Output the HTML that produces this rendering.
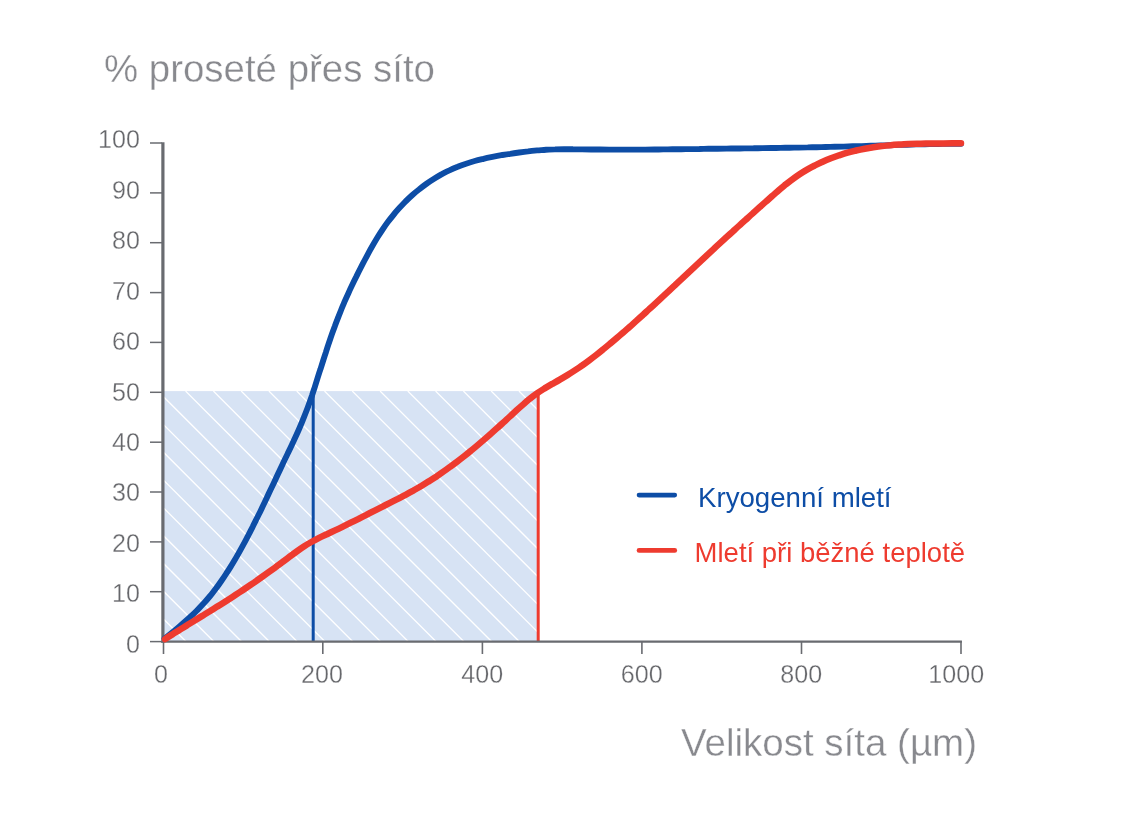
<!DOCTYPE html>
<html><head><meta charset="utf-8"><title>chart</title>
<style>html,body{margin:0;padding:0;background:#fff}svg{display:block;will-change:transform;opacity:0.999}text{font-family:"Liberation Sans",sans-serif}</style></head><body>
<svg width="1142" height="829" viewBox="0 0 1142 829">
<rect width="1142" height="829" fill="#fff"/>
<defs><clipPath id="c"><rect x="163" y="391.1" width="375.2" height="250.3"/></clipPath></defs>
<rect x="163" y="391.1" width="375.2" height="250.3" fill="#d7e3f4"/>
<g clip-path="url(#c)" stroke="#fff" stroke-width="1.35">
<line x1="-147.8" y1="391.1" x2="112.2" y2="651.1"/>
<line x1="-120.0" y1="391.1" x2="140.0" y2="651.1"/>
<line x1="-92.2" y1="391.1" x2="167.8" y2="651.1"/>
<line x1="-64.4" y1="391.1" x2="195.6" y2="651.1"/>
<line x1="-36.6" y1="391.1" x2="223.4" y2="651.1"/>
<line x1="-8.9" y1="391.1" x2="251.1" y2="651.1"/>
<line x1="18.9" y1="391.1" x2="278.9" y2="651.1"/>
<line x1="46.7" y1="391.1" x2="306.7" y2="651.1"/>
<line x1="74.5" y1="391.1" x2="334.5" y2="651.1"/>
<line x1="102.3" y1="391.1" x2="362.3" y2="651.1"/>
<line x1="130.0" y1="391.1" x2="390.0" y2="651.1"/>
<line x1="157.8" y1="391.1" x2="417.8" y2="651.1"/>
<line x1="185.6" y1="391.1" x2="445.6" y2="651.1"/>
<line x1="213.4" y1="391.1" x2="473.4" y2="651.1"/>
<line x1="241.2" y1="391.1" x2="501.2" y2="651.1"/>
<line x1="268.9" y1="391.1" x2="528.9" y2="651.1"/>
<line x1="296.7" y1="391.1" x2="556.7" y2="651.1"/>
<line x1="324.5" y1="391.1" x2="584.5" y2="651.1"/>
<line x1="352.3" y1="391.1" x2="612.3" y2="651.1"/>
<line x1="380.1" y1="391.1" x2="640.1" y2="651.1"/>
<line x1="407.8" y1="391.1" x2="667.8" y2="651.1"/>
<line x1="435.6" y1="391.1" x2="695.6" y2="651.1"/>
<line x1="463.4" y1="391.1" x2="723.4" y2="651.1"/>
<line x1="491.2" y1="391.1" x2="751.2" y2="651.1"/>
<line x1="519.0" y1="391.1" x2="779.0" y2="651.1"/>
<line x1="546.7" y1="391.1" x2="806.7" y2="651.1"/>
</g>
<line x1="313.2" y1="393" x2="313.2" y2="641" stroke="#0d4da6" stroke-width="3"/>
<line x1="538.2" y1="391" x2="538.2" y2="641" stroke="#ee3b2f" stroke-width="3"/>
<g stroke="#696b70" fill="none">
<line x1="162.9" y1="142.3" x2="162.9" y2="642.7" stroke-width="3.2"/>
<line x1="161.3" y1="641.6" x2="961.9" y2="641.6" stroke-width="2.3"/>
<line x1="150" y1="641.6" x2="162" y2="641.6" stroke-width="1.5"/>
<line x1="150" y1="591.7" x2="162" y2="591.7" stroke-width="1.5"/>
<line x1="150" y1="541.9" x2="162" y2="541.9" stroke-width="1.5"/>
<line x1="150" y1="492.0" x2="162" y2="492.0" stroke-width="1.5"/>
<line x1="150" y1="442.2" x2="162" y2="442.2" stroke-width="1.5"/>
<line x1="150" y1="392.3" x2="162" y2="392.3" stroke-width="1.5"/>
<line x1="150" y1="342.4" x2="162" y2="342.4" stroke-width="1.5"/>
<line x1="150" y1="292.6" x2="162" y2="292.6" stroke-width="1.5"/>
<line x1="150" y1="242.7" x2="162" y2="242.7" stroke-width="1.5"/>
<line x1="150" y1="192.9" x2="162" y2="192.9" stroke-width="1.5"/>
<line x1="150" y1="143.0" x2="162" y2="143.0" stroke-width="1.5"/>
<line x1="163.5" y1="641" x2="163.5" y2="654" stroke-width="1.6"/>
<line x1="322.8" y1="641" x2="322.8" y2="654" stroke-width="1.6"/>
<line x1="482.4" y1="641" x2="482.4" y2="654" stroke-width="1.6"/>
<line x1="641.9" y1="641" x2="641.9" y2="654" stroke-width="1.6"/>
<line x1="801.5" y1="641" x2="801.5" y2="654" stroke-width="1.6"/>
<line x1="961.0" y1="641" x2="961.0" y2="654" stroke-width="1.6"/>
</g>
<path d="M164.6 638.6 C165.8 637.7 169.3 634.9 171.6 633.0 C174.0 631.1 176.3 629.2 178.6 627.2 C180.9 625.3 183.2 623.3 185.4 621.3 C187.7 619.3 189.9 617.3 192.1 615.2 C194.3 613.2 196.4 611.0 198.5 608.9 C200.6 606.7 202.7 604.5 204.7 602.3 C206.7 600.1 208.6 597.8 210.5 595.5 C212.4 593.1 214.3 590.8 216.1 588.3 C217.9 585.9 219.6 583.5 221.3 581.0 C223.0 578.6 224.7 576.1 226.3 573.5 C228.0 571.0 229.6 568.5 231.2 565.9 C232.7 563.3 234.3 560.7 235.8 558.1 C237.3 555.5 238.8 552.9 240.2 550.3 C241.7 547.6 243.1 545.0 244.6 542.3 C246.0 539.7 247.4 537.0 248.8 534.4 C250.2 531.7 251.5 529.0 252.9 526.3 C254.2 523.6 255.6 520.9 256.9 518.3 C258.2 515.6 259.6 512.9 260.9 510.2 C262.2 507.4 263.5 504.7 264.8 502.0 C266.1 499.3 267.3 496.6 268.6 493.9 C269.9 491.2 271.2 488.4 272.5 485.7 C273.8 483.0 275.0 480.3 276.3 477.6 C277.6 474.8 278.9 472.1 280.2 469.4 C281.5 466.7 282.8 464.0 284.0 461.2 C285.3 458.5 286.7 455.8 287.9 453.1 C289.2 450.4 290.5 447.7 291.8 444.9 C293.1 442.2 294.4 439.5 295.6 436.8 C296.9 434.0 298.1 431.3 299.3 428.5 C300.5 425.8 301.7 423.0 302.8 420.2 C303.9 417.4 305.0 414.7 306.1 411.8 C307.2 409.0 308.2 406.2 309.2 403.4 C310.2 400.5 311.2 397.7 312.2 394.9 C313.1 392.0 314.1 389.1 315.0 386.3 C315.9 383.4 316.8 380.5 317.7 377.7 C318.6 374.8 319.5 371.9 320.5 369.1 C321.4 366.2 322.3 363.3 323.2 360.5 C324.1 357.6 325.0 354.7 326.0 351.9 C326.9 349.0 327.8 346.2 328.8 343.3 C329.8 340.5 330.7 337.6 331.7 334.8 C332.7 332.0 333.7 329.1 334.8 326.3 C335.8 323.5 336.9 320.7 338.0 317.9 C339.0 315.1 340.2 312.3 341.3 309.5 C342.4 306.7 343.6 304.0 344.8 301.2 C346.0 298.4 347.2 295.7 348.5 292.9 C349.7 290.2 351.0 287.5 352.3 284.8 C353.6 282.0 354.9 279.3 356.3 276.6 C357.6 273.9 358.9 271.2 360.3 268.6 C361.7 265.9 363.1 263.2 364.5 260.5 C365.9 257.9 367.3 255.2 368.7 252.6 C370.1 250.0 371.6 247.4 373.1 244.8 C374.6 242.2 376.1 239.6 377.7 237.0 C379.3 234.5 380.9 232.0 382.6 229.5 C384.3 227.0 386.0 224.5 387.8 222.1 C389.6 219.7 391.5 217.3 393.4 215.0 C395.3 212.6 397.3 210.3 399.3 208.1 C401.3 205.9 403.4 203.7 405.5 201.5 C407.7 199.4 409.9 197.3 412.1 195.3 C414.3 193.3 416.6 191.3 419.0 189.5 C421.3 187.6 423.7 185.8 426.2 184.0 C428.6 182.3 431.1 180.6 433.7 179.0 C436.2 177.4 438.8 175.9 441.4 174.4 C444.1 173.0 446.7 171.6 449.4 170.4 C452.1 169.1 454.9 167.9 457.7 166.8 C460.5 165.6 463.3 164.6 466.1 163.7 C469.0 162.7 471.8 161.8 474.7 161.0 C477.6 160.2 480.6 159.5 483.5 158.8 C486.4 158.1 489.4 157.5 492.4 156.9 C495.3 156.3 498.3 155.7 501.3 155.2 C504.3 154.7 507.2 154.2 510.2 153.8 C513.2 153.3 516.2 152.9 519.2 152.5 C522.1 152.1 525.1 151.7 528.1 151.4 C531.1 151.0 534.1 150.7 537.1 150.4 C540.0 150.2 543.0 149.9 546.0 149.7 C549.0 149.6 552.0 149.4 555.0 149.4 C558.0 149.3 561.0 149.2 564.0 149.2 C567.0 149.2 570.0 149.2 573.0 149.3 C576.1 149.3 579.1 149.3 582.1 149.4 C585.1 149.4 588.1 149.4 591.1 149.5 C594.1 149.5 597.1 149.5 600.1 149.5 C603.1 149.6 606.2 149.6 609.2 149.6 C612.2 149.6 615.2 149.6 618.2 149.6 C621.2 149.6 624.2 149.6 627.2 149.6 C630.2 149.6 633.2 149.6 636.2 149.6 C639.2 149.6 642.2 149.6 645.3 149.6 C648.3 149.5 651.3 149.5 654.3 149.5 C657.3 149.5 660.3 149.4 663.3 149.4 C666.3 149.4 669.3 149.3 672.3 149.3 C675.3 149.3 678.3 149.2 681.3 149.2 C684.3 149.2 687.4 149.1 690.4 149.1 C693.4 149.0 696.4 149.0 699.4 149.0 C702.4 148.9 705.4 148.9 708.4 148.8 C711.4 148.8 714.4 148.8 717.4 148.7 C720.4 148.7 723.4 148.7 726.5 148.6 C729.5 148.6 732.5 148.5 735.5 148.5 C738.5 148.5 741.5 148.4 744.5 148.4 C747.5 148.3 750.5 148.3 753.5 148.3 C756.5 148.2 759.5 148.2 762.5 148.1 C765.5 148.1 768.6 148.1 771.6 148.0 C774.6 148.0 777.6 147.9 780.6 147.9 C783.6 147.8 786.6 147.8 789.6 147.7 C792.6 147.7 795.6 147.6 798.6 147.6 C801.6 147.5 804.6 147.4 807.7 147.4 C810.7 147.3 813.7 147.3 816.7 147.2 C819.7 147.1 822.7 147.1 825.7 147.0 C828.7 146.9 831.7 146.9 834.7 146.8 C837.7 146.7 840.7 146.6 843.7 146.6 C846.7 146.5 849.7 146.4 852.8 146.3 C855.8 146.2 858.8 146.1 861.8 146.1 C864.8 146.0 867.8 145.9 870.8 145.8 C873.8 145.7 876.8 145.6 879.8 145.5 C882.8 145.4 885.8 145.3 888.8 145.2 C891.8 145.1 894.8 145.0 897.8 144.9 C900.9 144.8 903.9 144.7 906.9 144.7 C909.9 144.6 912.9 144.5 915.9 144.4 C918.9 144.3 921.9 144.3 924.9 144.2 C927.9 144.1 930.9 144.1 933.9 144.0 C936.9 144.0 939.9 143.9 943.0 143.9 C946.0 143.9 949.0 143.8 952.0 143.8 C955.0 143.8 959.5 143.8 961.0 143.8" fill="none" stroke="#0d4da6" stroke-width="5.9" stroke-linecap="round" stroke-linejoin="round"/>
<path d="M165.0 639.1 C166.2 638.3 169.9 635.9 172.4 634.4 C174.9 632.8 177.4 631.3 179.8 629.7 C182.3 628.2 184.8 626.6 187.3 625.1 C189.8 623.5 192.3 622.0 194.8 620.5 C197.3 618.9 199.8 617.4 202.3 615.9 C204.8 614.3 207.3 612.8 209.8 611.3 C212.3 609.7 214.7 608.2 217.2 606.6 C219.7 605.1 222.2 603.5 224.7 601.9 C227.1 600.4 229.6 598.8 232.1 597.2 C234.5 595.6 237.0 594.0 239.4 592.4 C241.9 590.8 244.3 589.2 246.7 587.5 C249.1 585.9 251.6 584.2 254.0 582.6 C256.4 580.9 258.8 579.2 261.2 577.5 C263.6 575.8 266.0 574.1 268.3 572.4 C270.7 570.7 273.1 569.0 275.5 567.3 C277.8 565.5 280.2 563.8 282.5 562.0 C284.9 560.3 287.2 558.5 289.6 556.7 C291.9 555.0 294.3 553.2 296.7 551.5 C299.0 549.8 301.4 548.1 303.9 546.5 C306.3 544.9 308.8 543.4 311.4 542.0 C313.9 540.6 316.5 539.2 319.1 537.9 C321.7 536.6 324.4 535.4 327.0 534.2 C329.7 532.9 332.3 531.7 335.0 530.4 C337.6 529.2 340.3 527.9 342.9 526.6 C345.5 525.3 348.1 524.0 350.7 522.7 C353.4 521.4 356.0 520.1 358.6 518.8 C361.2 517.4 363.8 516.1 366.4 514.8 C369.0 513.4 371.6 512.1 374.2 510.8 C376.8 509.5 379.5 508.1 382.1 506.8 C384.7 505.5 387.3 504.2 389.9 502.9 C392.6 501.5 395.2 500.2 397.8 498.9 C400.4 497.5 403.0 496.2 405.6 494.8 C408.2 493.4 410.7 492.0 413.3 490.6 C415.9 489.1 418.4 487.7 420.9 486.2 C423.4 484.7 425.9 483.2 428.4 481.6 C430.9 480.1 433.3 478.5 435.8 476.9 C438.2 475.3 440.6 473.6 443.0 471.9 C445.4 470.3 447.8 468.6 450.1 466.8 C452.5 465.1 454.8 463.4 457.2 461.6 C459.5 459.8 461.8 458.0 464.1 456.2 C466.4 454.4 468.7 452.6 470.9 450.7 C473.2 448.9 475.5 447.0 477.7 445.1 C480.0 443.2 482.2 441.3 484.4 439.4 C486.6 437.5 488.8 435.6 491.0 433.6 C493.2 431.7 495.4 429.7 497.6 427.7 C499.8 425.8 501.9 423.8 504.1 421.8 C506.3 419.8 508.4 417.8 510.6 415.9 C512.7 413.9 514.9 411.9 517.0 409.9 C519.2 407.9 521.4 406.0 523.6 404.1 C525.8 402.1 528.0 400.3 530.3 398.4 C532.6 396.6 534.9 394.9 537.3 393.2 C539.7 391.5 542.1 390.0 544.6 388.4 C547.1 386.9 549.7 385.4 552.2 383.9 C554.7 382.5 557.3 381.1 559.8 379.6 C562.4 378.1 564.9 376.6 567.4 375.1 C569.9 373.6 572.4 372.0 574.8 370.4 C577.3 368.8 579.7 367.1 582.1 365.5 C584.5 363.8 586.8 362.1 589.2 360.3 C591.5 358.6 593.9 356.8 596.2 355.0 C598.5 353.2 600.8 351.4 603.0 349.5 C605.3 347.7 607.6 345.8 609.8 343.9 C612.1 342.1 614.3 340.2 616.5 338.3 C618.7 336.4 621.0 334.4 623.2 332.5 C625.4 330.6 627.6 328.6 629.8 326.7 C632.0 324.8 634.1 322.8 636.3 320.9 C638.5 318.9 640.7 316.9 642.9 315.0 C645.0 313.0 647.2 311.0 649.3 309.0 C651.5 307.1 653.7 305.1 655.8 303.1 C658.0 301.1 660.1 299.1 662.2 297.1 C664.4 295.1 666.5 293.1 668.7 291.1 C670.8 289.1 672.9 287.1 675.1 285.1 C677.2 283.1 679.3 281.1 681.5 279.1 C683.6 277.1 685.8 275.1 687.9 273.1 C690.0 271.1 692.2 269.1 694.3 267.1 C696.4 265.1 698.6 263.1 700.7 261.1 C702.9 259.1 705.0 257.1 707.1 255.1 C709.3 253.1 711.4 251.1 713.6 249.1 C715.7 247.1 717.9 245.1 720.0 243.2 C722.2 241.2 724.4 239.2 726.5 237.2 C728.7 235.2 730.8 233.3 733.0 231.3 C735.2 229.3 737.3 227.3 739.5 225.4 C741.7 223.4 743.8 221.4 746.0 219.5 C748.2 217.5 750.3 215.5 752.5 213.6 C754.7 211.6 756.9 209.7 759.1 207.7 C761.2 205.8 763.4 203.8 765.6 201.9 C767.8 199.9 770.0 198.0 772.2 196.0 C774.4 194.1 776.6 192.1 778.8 190.2 C781.0 188.3 783.2 186.5 785.5 184.6 C787.8 182.8 790.1 181.0 792.4 179.3 C794.8 177.5 797.2 175.8 799.6 174.2 C802.1 172.6 804.5 171.1 807.1 169.6 C809.6 168.2 812.2 166.8 814.8 165.5 C817.4 164.1 820.1 162.9 822.7 161.7 C825.4 160.5 828.1 159.4 830.9 158.3 C833.6 157.3 836.4 156.3 839.2 155.3 C842.0 154.4 844.8 153.5 847.6 152.7 C850.4 151.9 853.3 151.2 856.1 150.5 C859.0 149.9 861.8 149.3 864.7 148.7 C867.6 148.2 870.4 147.7 873.3 147.2 C876.2 146.8 879.1 146.4 882.0 146.1 C884.9 145.7 887.8 145.4 890.7 145.2 C893.6 144.9 896.6 144.7 899.5 144.5 C902.4 144.3 905.3 144.2 908.2 144.0 C911.2 143.9 914.1 143.8 917.0 143.7 C920.0 143.7 922.9 143.6 925.8 143.5 C928.8 143.5 931.7 143.5 934.6 143.4 C937.6 143.4 940.5 143.4 943.4 143.4 C946.4 143.3 949.3 143.3 952.2 143.3 C955.2 143.3 959.5 143.2 961.0 143.2" fill="none" stroke="#ee3b2f" stroke-width="6.5" stroke-linecap="round" stroke-linejoin="round"/>
<g fill="#66676b" font-size="25.1" text-anchor="end" stroke="#fff" stroke-width="0.3">
<text x="139.9" y="148.4">100</text>
<text x="139.9" y="198.8">90</text>
<text x="139.9" y="249.2">80</text>
<text x="139.9" y="299.7">70</text>
<text x="139.9" y="350.1">60</text>
<text x="139.9" y="400.5">50</text>
<text x="139.9" y="450.9">40</text>
<text x="139.9" y="501.3">30</text>
<text x="139.9" y="551.8">20</text>
<text x="139.9" y="602.2">10</text>
<text x="139.9" y="652.6">0</text>
</g>
<g fill="#66676b" font-size="25.1" text-anchor="middle" stroke="#fff" stroke-width="0.3">
<text x="161.0" y="683">0</text>
<text x="322.0" y="683">200</text>
<text x="482.2" y="683">400</text>
<text x="641.8" y="683">600</text>
<text x="801.2" y="683">800</text>
<text x="956.2" y="683">1000</text>
</g>
<text id="t1" x="104" y="82.2" font-size="38.6" fill="#88898e" stroke="#fff" stroke-width="0.35" textLength="331" lengthAdjust="spacingAndGlyphs">% proseté přes síto</text>
<text id="t2" x="681" y="755.5" font-size="38.6" fill="#88898e" stroke="#fff" stroke-width="0.35" textLength="296" lengthAdjust="spacingAndGlyphs">Velikost síta (µm)</text>
<line x1="639" y1="495.1" x2="674.8" y2="495.1" stroke="#0d4da6" stroke-width="4.6" stroke-linecap="round"/>
<line x1="639" y1="550.4" x2="674.8" y2="550.4" stroke="#ee3b2f" stroke-width="4.6" stroke-linecap="round"/>
<text id="l1" x="698.0" y="506.8" font-size="27.2" fill="#0d4da6" textLength="193.5" lengthAdjust="spacingAndGlyphs">Kryogenní mletí</text>
<text id="l2" x="694.6" y="561.7" font-size="27.2" fill="#ee3b2f" textLength="270.5" lengthAdjust="spacingAndGlyphs">Mletí při běžné teplotě</text>
</svg></body></html>
